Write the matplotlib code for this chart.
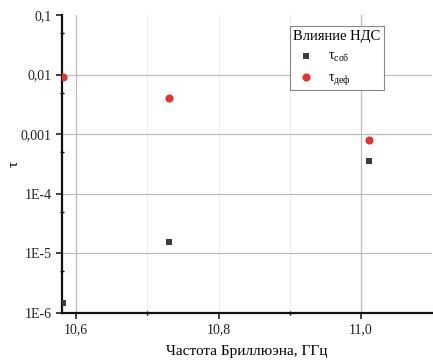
import numpy as np
import matplotlib.pyplot as plt
from matplotlib.ticker import FixedLocator, FixedFormatter, LogLocator, NullFormatter

plt.rcParams['font.family'] = ['Liberation Serif', 'DejaVu Serif']
plt.rcParams['mathtext.fontset'] = 'custom'
plt.rcParams['mathtext.rm'] = 'Liberation Serif'
plt.rcParams['mathtext.it'] = 'Liberation Serif:italic'

# Brillouin frequency, GHz
freq_sob = [10.582, 10.731, 11.011]
tau_sob = [1.45e-6, 1.53e-5, 3.55e-4]
freq_def = [10.582, 10.731, 11.011]
tau_def = [9.2e-3, 4.0e-3, 8.0e-4]

x_ticks = [10.6, 10.8, 11.0]
x_labels = ['10,6', '10,8', '11,0']
y_ticks = [1e-6, 1e-5, 1e-4, 1e-3, 1e-2, 1e-1]
y_labels = ['1E-6', '1E-5', '1E-4', '0,001', '0,01', '0,1']

fig = plt.figure(figsize=(4.33, 3.6), dpi=100)
ax = fig.add_axes([0.143, 0.131, 0.855, 0.827])

ax.set_yscale('log')
ax.set_xlim(10.58, 11.1)
ax.set_ylim(1e-6, 1e-1)

# grid: stronger lines at 10.6 and 11.0, faint ones in between
for xv in [10.6, 11.0]:
    ax.axvline(xv, color='#bcbcbc', lw=0.9, zorder=0)
for xv in [10.7, 10.8, 10.9]:
    ax.axvline(xv, color='#eeeeee', lw=0.8, zorder=0)
for yv in [1e-5, 1e-4, 1e-3, 1e-2]:
    ax.axhline(yv, color='#bcbcbc', lw=0.9, zorder=0)

ax.scatter(freq_sob, tau_sob, marker='s', s=18, color='#3c3c3c', lw=0,
           label=r'$\mathrm{τ_{соб}}$', zorder=3)
ax.scatter(freq_def, tau_def, marker='o', s=34, color='#e03434', lw=0,
           label=r'$\mathrm{τ_{деф}}$', zorder=3)

ax.xaxis.set_major_locator(FixedLocator(x_ticks))
ax.xaxis.set_major_formatter(FixedFormatter(x_labels))
ax.xaxis.set_minor_locator(FixedLocator([10.7, 10.9]))
ax.yaxis.set_major_locator(FixedLocator(y_ticks))
ax.yaxis.set_major_formatter(FixedFormatter(y_labels))
ax.yaxis.set_minor_locator(LogLocator(base=10, subs=[5.0]))
ax.yaxis.set_minor_formatter(NullFormatter())

ax.tick_params(which='major', direction='out', length=4, width=1.2,
               labelsize=10, colors='#222222')
ax.tick_params(which='minor', direction='inout', length=3, width=1.0)

for side in ['top', 'right']:
    ax.spines[side].set_visible(False)
for side in ['left', 'bottom']:
    ax.spines[side].set_linewidth(1.6)
    ax.spines[side].set_color('#111111')

ax.set_xlabel('Частота Бриллюэна, ГГц', fontsize=11, labelpad=6)
ax.set_ylabel('τ', fontsize=11, labelpad=0)

leg = ax.legend(title='Влияние НДС', loc='upper left',
                bbox_to_anchor=(0.616, 0.962), borderaxespad=0,
                fontsize=10, title_fontsize=10.5, fancybox=False,
                edgecolor='#888888', framealpha=1, handletextpad=0.7,
                borderpad=0.25, labelspacing=0.5, handlelength=1.8,
                alignment='left')
leg.get_frame().set_linewidth(0.8)

fig.savefig('out.png', dpi=100)
